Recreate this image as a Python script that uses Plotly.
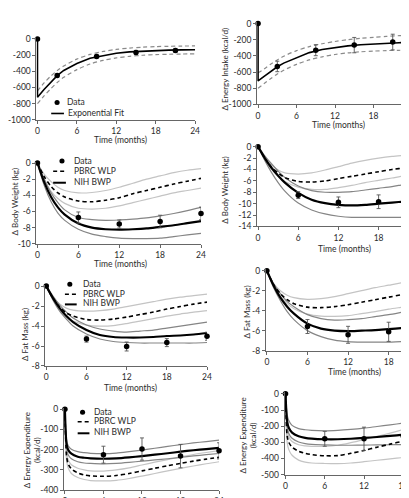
import plotly.graph_objects as go

# ---------------- data ----------------
# Panel A (row 1, left): energy intake, exponential fit
A_data_t = [0, 3, 9, 15, 21]
A_data_y = [0, -452, -217, -167, -143]
A_data_err = [0, 20, 20, 25, 25]
A_fit_t = [0, 0, 1, 2, 3, 4, 6, 8, 10, 12, 14, 16, 18, 20, 22, 24]
A_fit_y = [0, -722, -625, -540, -455, -390, -305, -240, -205, -178, -160, -150, -143, -138, -135, -133]
A_band_t = [0, 1, 2, 3, 4, 6, 8, 10, 12, 14, 16, 18, 20, 22, 24]
A_hi_y = [-643, -545, -462, -392, -335, -250, -192, -155, -130, -113, -102, -95, -91, -88, -87]
A_lo_y = [-800, -705, -618, -540, -475, -380, -310, -265, -235, -215, -202, -194, -190, -187, -185]

# Panel B (row 1, right): energy intake, exponential fit
B_data_t = [0, 3, 9, 15, 21]
B_data_y = [0, -531, -330, -267, -229]
B_data_err = [0, 65, 68, 95, 97]
B_fit_t = [0, 0, 1, 2, 3, 4, 6, 8, 10, 12, 14, 16, 18, 20, 22, 24]
B_fit_y = [0, -710, -650, -590, -535, -490, -420, -360, -322, -296, -277, -262, -251, -243, -237, -233]
B_band_t = [0, 1, 2, 3, 4, 6, 8, 10, 12, 14, 16, 18, 20, 22, 24]
B_hi_y = [-610, -560, -500, -450, -405, -335, -285, -250, -222, -200, -183, -170, -159, -150, -143]
B_lo_y = [-800, -740, -680, -625, -578, -505, -450, -412, -383, -363, -350, -341, -335, -331, -328]

# Model time grid (months) for body weight / fat mass
M_t = [0, 1, 2, 3, 4, 6, 8, 10, 12, 14, 16, 18, 20, 22, 24]

# Panel C (row 2, left): body weight (kg)
C_data_t = [0, 6, 12, 18, 24]
C_data_y = [0, -6.75, -7.56, -7.24, -6.24]
C_data_err = [0, 0.69, 0.5, 0.78, 0.78]
C_nih = [0, -2.4, -4.2, -5.5, -6.4, -7.5, -8.0, -8.2, -8.25, -8.2, -8.1, -7.9, -7.7, -7.45, -7.2]
C_nih_hi = [0, -2.0, -3.7, -4.9, -5.8, -6.75, -7.0, -7.1, -7.05, -6.95, -6.8, -6.55, -6.25, -5.9, -5.5]
C_nih_lo = [0, -2.8, -4.8, -6.2, -7.1, -8.2, -8.8, -9.1, -9.3, -9.35, -9.35, -9.3, -9.1, -8.9, -8.7]
C_pbrc = [0, -1.7, -2.9, -3.7, -4.2, -4.7, -4.8, -4.6, -4.3, -3.8, -3.4, -3.0, -2.6, -2.25, -1.9]
C_pbrc_hi = [0, -1.4, -2.3, -3.0, -3.4, -3.7, -3.65, -3.4, -3.0, -2.5, -2.0, -1.6, -1.2, -0.9, -0.7]
C_pbrc_lo = [0, -2.0, -3.5, -4.4, -5.0, -5.6, -5.7, -5.6, -5.3, -4.9, -4.5, -4.1, -3.7, -3.4, -3.1]

# Panel D (row 2, right): body weight (kg)
D_data_t = [0, 6, 12, 18]
D_data_y = [0, -8.5, -9.76, -9.66]
D_data_err = [0, 0.6, 0.94, 1.2]
D_nih = [0, -2.0, -3.7, -5.1, -6.3, -8.1, -9.3, -9.9, -10.2, -10.3, -10.2, -10.0, -9.8, -9.6, -9.4]
D_nih_hi = [0, -1.6, -3.0, -4.3, -5.4, -6.9, -7.7, -8.0, -8.0, -7.9, -7.6, -7.3, -7.0, -6.6, -6.3]
D_nih_lo = [0, -2.4, -4.5, -6.3, -7.8, -9.9, -11.1, -11.8, -12.2, -12.4, -12.4, -12.4, -12.4, -12.4, -12.3]
D_pbrc = [0, -2.0, -3.6, -4.6, -5.4, -6.1, -6.2, -6.0, -5.6, -5.2, -4.8, -4.4, -4.0, -3.7, -3.4]
D_pbrc_hi = [0, -1.9, -3.2, -4.1, -4.6, -4.8, -4.6, -4.1, -3.5, -2.9, -2.4, -2.0, -1.7, -1.5, -1.3]
D_pbrc_lo = [0, -2.1, -3.9, -5.2, -6.1, -7.1, -7.5, -7.5, -7.2, -6.8, -6.3, -5.9, -5.5, -5.1, -4.8]

# Panel E (row 3, left): fat mass (kg)
E_data_t = [0, 6, 12, 18, 24]
E_data_y = [0, -5.31, -6.05, -5.66, -5.02]
E_data_err = [0, 0.3, 0.45, 0.4, 0.4]
E_nih = [0, -1.2, -2.2, -3.0, -3.6, -4.4, -4.9, -5.1, -5.15, -5.15, -5.1, -5.0, -4.95, -4.85, -4.7]
E_nih_hi = [0, -1.0, -1.9, -2.6, -3.2, -3.9, -4.3, -4.5, -4.6, -4.5, -4.4, -4.2, -4.0, -3.8, -3.6]
E_nih_lo = [0, -1.4, -2.5, -3.3, -4.0, -4.8, -5.3, -5.55, -5.65, -5.7, -5.7, -5.7, -5.7, -5.7, -5.65]
E_pbrc = [0, -1.2, -2.1, -2.7, -3.0, -3.35, -3.4, -3.3, -3.1, -2.85, -2.6, -2.3, -2.05, -1.8, -1.6]
E_pbrc_hi = [0, -1.1, -1.8, -2.2, -2.4, -2.5, -2.45, -2.3, -2.05, -1.8, -1.55, -1.3, -1.1, -0.95, -0.8]
E_pbrc_lo = [0, -1.3, -2.4, -3.1, -3.5, -3.9, -4.0, -3.95, -3.75, -3.5, -3.25, -3.0, -2.8, -2.6, -2.45]

# Panel F (row 3, right): fat mass (kg)
F_t = [0, 1, 2, 3, 4, 6, 8, 10, 12, 14, 16, 18, 20, 22]
F_data_t = [0, 6, 12, 18]
F_data_y = [0, -5.59, -6.42, -6.12]
F_data_err = [0, 0.7, 0.85, 0.96]
F_nih = [0, -1.5, -2.7, -3.6, -4.3, -5.3, -5.8, -6.0, -6.05, -6.0, -5.95, -5.85, -5.75, -5.65]
F_nih_hi = [0, -1.3, -2.3, -3.1, -3.6, -4.4, -4.8, -4.95, -4.9, -4.8, -4.6, -4.4, -4.15, -3.9]
F_nih_lo = [0, -1.7, -3.0, -4.1, -4.9, -6.0, -6.6, -6.95, -7.1, -7.15, -7.15, -7.15, -7.1, -7.1]
F_pbrc = [0, -1.4, -2.3, -2.9, -3.3, -3.65, -3.7, -3.6, -3.4, -3.15, -2.9, -2.65, -2.4, -2.2]
F_pbrc_hi = [0, -1.3, -2.0, -2.45, -2.7, -2.87, -2.8, -2.6, -2.3, -2.0, -1.7, -1.45, -1.2, -1.0]
F_pbrc_lo = [0, -1.5, -2.6, -3.3, -3.8, -4.35, -4.55, -4.57, -4.5, -4.3, -4.1, -3.85, -3.65, -3.45]

# Panel G (row 4, left): energy expenditure (kcal/d)
G_t = [0, 0.25, 0.5, 1, 2, 3, 4, 6, 8, 10, 12, 14, 16, 18, 20, 22, 24]
G_data_t = [0, 6, 12, 18, 24]
G_data_y = [0, -225, -197, -232, -206]
G_data_err = [0, 42, 55, 58, 40]
G_nih = [0, -170, -200, -220, -235, -240, -243, -245, -243, -238, -232, -225, -218, -210, -203, -197, -191]
G_nih_hi = [0, -150, -180, -198, -210, -215, -218, -220, -217, -210, -202, -193, -184, -175, -167, -160, -153]
G_nih_lo = [0, -190, -225, -245, -260, -266, -268, -270, -268, -263, -257, -251, -245, -238, -231, -225, -219]
G_pbrc = [0, -230, -270, -295, -315, -325, -330, -332, -328, -318, -305, -292, -280, -268, -257, -247, -238]
G_pbrc_hi = [0, -210, -250, -275, -292, -300, -305, -306, -300, -290, -276, -262, -249, -236, -224, -214, -205]
G_pbrc_lo = [0, -250, -290, -318, -338, -348, -353, -355, -352, -343, -331, -318, -305, -293, -281, -270, -260]

# Panel H (row 4, right): energy expenditure (kcal/d)
H_t = [0, 0.25, 0.5, 1, 2, 3, 4, 6, 8, 10, 12, 14, 16, 18, 20]
H_data_t = [0, 6, 12, 18]
H_data_y = [0, -278, -278, -262]
H_data_err = [0, 46, 72, 53]
H_nih = [0, -170, -210, -240, -262, -272, -277, -281, -281, -278, -273, -267, -260, -253, -245]
H_nih_hi = [0, -130, -165, -195, -215, -222, -226, -229, -226, -220, -212, -202, -192, -181, -170]
H_nih_lo = [0, -200, -245, -275, -298, -308, -313, -316, -318, -318, -317, -316, -315, -314, -313]
H_pbrc = [0, -260, -300, -330, -355, -368, -376, -383, -382, -368, -350, -330, -311, -292, -274]
H_pbrc_hi = [0, -220, -265, -295, -315, -322, -325, -325, -318, -302, -283, -263, -243, -221, -200]
H_pbrc_lo = [0, -300, -345, -380, -410, -422, -428, -431, -432, -428, -420, -411, -402, -394, -387]

X_TICKS = [0, 6, 12, 18, 24]

# ---------------- layout helpers ----------------
W, H = 409, 498
FONT = "Lato, 'DejaVu Sans', sans-serif"
TXT = "#2b2b2b"
AXC = "#666666"
LIGHT = "#c4c4c4"
MID = "#858585"

# panel geometry in pixels: t0 = px of t=0, kx = px per month, y0 = px of value 0, ky = px per unit
panels = {
    1: dict(t0=27, kx=6.7, xmax=24, y0=28, ky=0.084, ymin=-1000, yt=[0, -200, -400, -600, -800, -1000]),
    2: dict(t0=252, kx=6.54, xmax=24.0, y0=12, ky=0.084, ymin=-1000, yt=[0, -200, -400, -600, -800, -1000]),
    3: dict(t0=27, kx=6.95, xmax=24, y0=157, ky=8.4, ymin=-10, yt=[0, -2, -4, -6, -8, -10]),
    4: dict(t0=252, kx=6.83, xmax=22.98, y0=140, ky=83 / 14, ymin=-14, yt=[0, -2, -4, -6, -8, -10, -12, -14]),
    5: dict(t0=36, kx=6.83, xmax=24, y0=285, ky=10.375, ymin=-8, yt=[0, -2, -4, -6, -8]),
    6: dict(t0=261, kx=6.9, xmax=21.45, y0=269, ky=10.375, ymin=-8, yt=[0, -2, -4, -6, -8]),
    7: dict(t0=55, kx=6.55, xmax=24, y0=413, ky=0.21, ymin=-400, yt=[0, -100, -200, -300, -400]),
    8: dict(t0=280, kx=6.67, xmax=19.34, y0=397, ky=0.168, ymin=-500, yt=[0, -100, -200, -300, -400, -500]),
}

fig = go.Figure()
layout = dict(width=W, height=H, margin=dict(l=0, r=0, t=0, b=0),
              paper_bgcolor="white", plot_bgcolor="white", showlegend=False,
              font=dict(family=FONT, size=8.5, color=TXT))

for i, p in panels.items():
    sfx = "" if i == 1 else str(i)
    xmin = -0.15
    ymax = 1.5 / p["ky"]
    xd = [(p["t0"] + xmin * p["kx"]) / W, min(1.0, (p["t0"] + p["xmax"] * p["kx"]) / W)]
    ybot = p["y0"] - p["ymin"] * p["ky"]
    ytop = p["y0"] - ymax * p["ky"]
    yd = [max(0.0, 1 - ybot / H), 1 - ytop / H]
    layout["xaxis" + sfx] = dict(domain=xd, range=[xmin, p["xmax"]], anchor="y" + sfx,
                                 tickvals=X_TICKS, ticktext=[str(v) for v in X_TICKS],
                                 showline=True, linecolor=AXC, linewidth=1, showgrid=False,
                                 zeroline=False, ticks="outside", ticklen=3, tickcolor=AXC,
                                 tickfont=dict(family=FONT, size=8.5, color=TXT), fixedrange=True)
    layout["yaxis" + sfx] = dict(domain=yd, range=[p["ymin"], ymax], anchor="x" + sfx,
                                 tickvals=p["yt"], ticktext=[str(v) for v in p["yt"]],
                                 showline=True, linecolor=AXC, linewidth=1, showgrid=False,
                                 zeroline=False, ticks="outside", ticklen=3, tickcolor=AXC,
                                 tickfont=dict(family=FONT, size=8.5, color=TXT), fixedrange=True)


def ax(i):
    return ("x", "y") if i == 1 else ("x%d" % i, "y%d" % i)


def add_line(i, t, y, color, width, dash=None, shape="spline"):
    xa, ya = ax(i)
    fig.add_trace(go.Scatter(x=t, y=y, mode="lines", xaxis=xa, yaxis=ya, hoverinfo="skip",
                             line=dict(color=color, width=width, dash=dash, shape=shape,
                                       smoothing=0.8 if shape == "spline" else None)))


def add_data(i, t, y, err):
    xa, ya = ax(i)
    fig.add_trace(go.Scatter(x=t, y=y, mode="markers", xaxis=xa, yaxis=ya, cliponaxis=False,
                             marker=dict(color="black", size=5.5),
                             error_y=dict(type="data", array=err, color="#555555",
                                          thickness=0.9, width=2)))


# exponential-fit panels
for i, bt, hi, lo, ft, fy, dt, dy, de in [
    (1, A_band_t, A_hi_y, A_lo_y, A_fit_t, A_fit_y, A_data_t, A_data_y, A_data_err),
    (2, B_band_t, B_hi_y, B_lo_y, B_fit_t, B_fit_y, B_data_t, B_data_y, B_data_err),
]:
    add_line(i, bt, hi, "#8a8a8a", 1.2, dash="4px,3px")
    add_line(i, bt, lo, "#8a8a8a", 1.2, dash="4px,3px")
    add_line(i, ft, fy, "black", 1.6, shape="linear")
    add_data(i, dt, dy, de)

# model panels
for i, t, ph, pl, pm, nh, nl, nm, dt, dy, de in [
    (3, M_t, C_pbrc_hi, C_pbrc_lo, C_pbrc, C_nih_hi, C_nih_lo, C_nih, C_data_t, C_data_y, C_data_err),
    (4, M_t, D_pbrc_hi, D_pbrc_lo, D_pbrc, D_nih_hi, D_nih_lo, D_nih, D_data_t, D_data_y, D_data_err),
    (5, M_t, E_pbrc_hi, E_pbrc_lo, E_pbrc, E_nih_hi, E_nih_lo, E_nih, E_data_t, E_data_y, E_data_err),
    (6, F_t, F_pbrc_hi, F_pbrc_lo, F_pbrc, F_nih_hi, F_nih_lo, F_nih, F_data_t, F_data_y, F_data_err),
    (7, G_t, G_pbrc_hi, G_pbrc_lo, G_pbrc, G_nih_hi, G_nih_lo, G_nih, G_data_t, G_data_y, G_data_err),
    (8, H_t, H_pbrc_hi, H_pbrc_lo, H_pbrc, H_nih_hi, H_nih_lo, H_nih, H_data_t, H_data_y, H_data_err),
]:
    add_line(i, t, ph, LIGHT, 1.2)
    add_line(i, t, pl, LIGHT, 1.2)
    add_line(i, t, nh, MID, 1.2)
    add_line(i, t, nl, MID, 1.2)
    add_line(i, t, pm, "black", 1.6, dash="4px,3px")
    add_line(i, t, nm, "black", 2.2)
    add_data(i, dt, dy, de)

# ---------------- titles ----------------
ann = []


def px(x, y):
    return x / W, 1 - y / H


def text(x, y, s, angle=0, anchor="center", size=8.5):
    X, Y = px(x, y)
    ann.append(dict(x=X, y=Y, xref="paper", yref="paper", text=s, showarrow=False,
                    textangle=angle, xanchor=anchor, yanchor="middle",
                    font=dict(family=FONT, size=size, color=TXT)))


for (x, y) in [(112, 133), (334, 118), (112, 262), (340, 246), (122, 391), (350, 374)]:
    text(x, y, "Time (months)")

text(218, 59, "Δ Energy Intake (kcal/d)", angle=-90, size=8)
text(5, 197, "Δ Body Weight (kg)", angle=-90, size=8)
text(218, 185, "Δ Body Weight (kg)", angle=-90, size=8)
text(15, 335, "Δ Fat Mass (kg)", angle=-90, size=8)
text(241, 312, "Δ Fat Mass (kg)", angle=-90, size=8)
text(21, 456, "Δ Energy Expenditure<br>(kcal/d)", angle=-90, size=8)
text(242, 440, "Δ Energy Expenditure<br>(kcal/d)", angle=-90, size=8)

# ---------------- legends ----------------
shapes = []


def dot(cx, cy, r=2.6):
    x0, y1 = px(cx - r, cy - r)
    x1, y0 = px(cx + r, cy + r)
    shapes.append(dict(type="circle", xref="paper", yref="paper", x0=x0, x1=x1, y0=y0, y1=y1,
                       fillcolor="black", line=dict(width=0)))


def seg(xa, xb, y, width, dash=None):
    X0, Y = px(xa, y)
    X1, _ = px(xb, y)
    shapes.append(dict(type="line", xref="paper", yref="paper", x0=X0, x1=X1, y0=Y, y1=Y,
                       line=dict(color="black", width=width, dash=dash)))


dot(47, 94)
text(55, 94, "Data", anchor="left")
seg(41, 54, 105.5, 1.6)
text(56, 104.5, "Exponential Fit", anchor="left")

for (dx, dy, lx0, lx1, tx, ly1, ly2) in [
    (52, 155, 43, 56, 62, 165.5, 177.5),
    (60, 283, 55, 67, 71, 293.5, 304),
    (73, 416, 68, 80, 83, 426, 438),
]:
    dot(dx, dy)
    text(tx, dy, "Data", anchor="left")
    seg(lx0, lx1, ly1, 1.6, dash="4px,3px")
    text(tx, ly1 - 0.5, "PBRC WLP", anchor="left")
    seg(lx0, lx1, ly2, 2.0)
    text(tx, ly2 - 1, "NIH BWP", anchor="left")

layout["annotations"] = ann
layout["shapes"] = shapes
fig.update_layout(**layout)
fig.write_html("out.html")
